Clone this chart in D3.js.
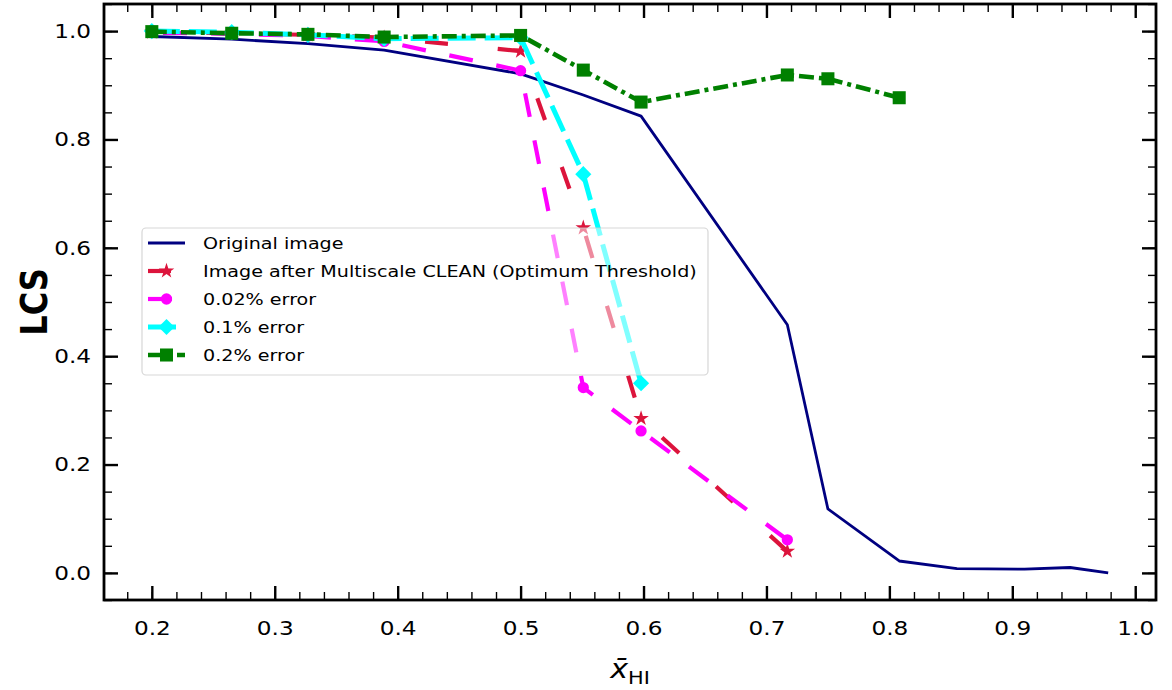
<!DOCTYPE html>
<html>
<head>
<meta charset="utf-8">
<script src="https://cdn.jsdelivr.net/npm/d3@7/dist/d3.min.js"></script>
<style>
  html, body { margin: 0; padding: 0; background: #ffffff; }
  svg { display: block; font-family: "DejaVu Sans", sans-serif; }
</style>
</head>
<body>
<svg id="chart" width="1172" height="690"></svg>
<script>
// Mean neutral fraction sampled along the reionization history
const xHI = [0.2, 0.265, 0.327, 0.389, 0.5, 0.551, 0.598, 0.717, 0.75, 0.808, 0.855, 0.91, 0.947, 0.978];

// LCS for each image type (one value per xHI, series stop where data stop)
const lcsOriginal = [0.990, 0.985, 0.977, 0.965, 0.921, 0.882, 0.843, 0.458, 0.118, 0.022, 0.008, 0.007, 0.010, 0.0];
const lcsClean    = [0.998, 0.996, 0.993, 0.988, 0.963, 0.637, 0.285, 0.040];
const lcsErr002   = [0.997, 0.995, 0.991, 0.981, 0.927, 0.342, 0.262, 0.061];
const lcsErr01    = [1.000, 0.998, 0.993, 0.986, 0.988, 0.736, 0.350];
const lcsErr02    = [0.999, 0.996, 0.994, 0.989, 0.992, 0.928, 0.869, 0.919, 0.912, 0.877];

const seriesNames = [
  "Original image",
  "Image after Multiscale CLEAN (Optimum Threshold)",
  "0.02% error",
  "0.1% error",
  "0.2% error"
];

const xTicks = [0.2, 0.3, 0.4, 0.5, 0.6, 0.7, 0.8, 0.9, 1.0];
const yTicks = [0.0, 0.2, 0.4, 0.6, 0.8, 1.0];

// ---- layout ----
const svg = d3.select("#chart");
const box = { left: 104, right: 1156, top: 4, bottom: 600 };
const textStretch = 1.16;   // glyphs are drawn slightly wide

// 5% padding around the data range on both axes
const xMin = d3.min(xHI), xMax = d3.max(xHI);
const xPad = (xMax - xMin) * 0.05;
const yPad = (1.0 - 0.0) * 0.05;
const x = d3.scaleLinear().domain([xMin - xPad, xMax + xPad]).range([box.left, box.right]);
const y = d3.scaleLinear().domain([0 - yPad, 1.0 + yPad]).range([box.bottom, box.top]);

// move a text's x/y into a transform so it can be widened in place
function widen(sel) {
  sel.each(function () {
    const t = d3.select(this);
    const tx = +t.attr("x") || 0, ty = +t.attr("y") || 0;
    t.attr("x", 0).attr("y", 0)
     .attr("transform", `translate(${tx},${ty}) scale(${textStretch},1)`);
  });
}

// ---- ticks (inward on all four sides) ----
const xMinor = d3.range(0.16, 1.0101, 0.02).filter(v => v >= x.domain()[0] && v <= x.domain()[1]);
const yMinor = d3.range(-0.05, 1.051, 0.05).map(v => Math.round(v * 100) / 100);

const fmt = d3.format(".1f");
const tickFont = 20;

function styleTicks(g, width) {
  g.select(".domain").remove();
  g.selectAll(".tick line").attr("stroke", "#000").attr("stroke-width", width);
}

// minor ticks
svg.append("g").attr("transform", `translate(0,${box.bottom})`)
  .call(d3.axisBottom(x).tickValues(xMinor).tickSize(-8).tickFormat(""))
  .call(g => styleTicks(g, 1.4));
svg.append("g").attr("transform", `translate(0,${box.top})`)
  .call(d3.axisTop(x).tickValues(xMinor).tickSize(-8).tickFormat(""))
  .call(g => styleTicks(g, 1.4));
svg.append("g").attr("transform", `translate(${box.left},0)`)
  .call(d3.axisLeft(y).tickValues(yMinor).tickSize(-8).tickFormat(""))
  .call(g => styleTicks(g, 1.4));
svg.append("g").attr("transform", `translate(${box.right},0)`)
  .call(d3.axisRight(y).tickValues(yMinor).tickSize(-8).tickFormat(""))
  .call(g => styleTicks(g, 1.4));

// major ticks
const xAxis = svg.append("g").attr("transform", `translate(0,${box.bottom})`)
  .call(d3.axisBottom(x).tickValues(xTicks).tickSize(-14).tickPadding(21).tickFormat(fmt))
  .call(g => styleTicks(g, 2.4));
svg.append("g").attr("transform", `translate(0,${box.top})`)
  .call(d3.axisTop(x).tickValues(xTicks).tickSize(-14).tickFormat(""))
  .call(g => styleTicks(g, 2.4));
const yAxis = svg.append("g").attr("transform", `translate(${box.left},0)`)
  .call(d3.axisLeft(y).tickValues(yTicks).tickSize(-14).tickPadding(13).tickFormat(fmt))
  .call(g => styleTicks(g, 2.4));
svg.append("g").attr("transform", `translate(${box.right},0)`)
  .call(d3.axisRight(y).tickValues(yTicks).tickSize(-14).tickFormat(""))
  .call(g => styleTicks(g, 2.4));

[xAxis, yAxis].forEach(a => a.selectAll(".tick text")
  .attr("fill", "#000")
  .style("font-family", "'DejaVu Sans', sans-serif")
  .style("font-size", tickFont + "px")
  .call(widen));

// ---- series ----
const starSym = d3.symbolStar;
const diamondSym = {
  draw(ctx, size) {
    const r = Math.sqrt(size / 2);
    ctx.moveTo(0, -r); ctx.lineTo(r, 0); ctx.lineTo(0, r); ctx.lineTo(-r, 0); ctx.closePath();
  }
};

// dash phase: `anchor` is the point index where a dash should end `past` px after it
const series = [
  { name: seriesNames[0], values: lcsOriginal, color: "#000080", width: 2.8, dash: null, symbol: null, size: 0 },
  { name: seriesNames[1], values: lcsClean,    color: "#DC143C", width: 4.2, dash: [23, 50], anchor: 4, past: 0, symbol: starSym, size: 75 },
  { name: seriesNames[2], values: lcsErr002,   color: "#FF00FF", width: 4.2, dash: [24, 24], anchor: 5, past: 12, symbol: d3.symbolCircle, size: 100 },
  { name: seriesNames[3], values: lcsErr01,    color: "#00FFFF", width: 5,   dash: [28, 9], symbol: diamondSym, size: 130 },
  { name: seriesNames[4], values: lcsErr02,    color: "#008000", width: 4.6, dash: [15, 5, 4, 5], symbol: d3.symbolSquare, size: 170 }
];

// path length in screen pixels up to point index k
function lengthTo(pts, k) {
  let L = 0;
  for (let i = 1; i <= k; i++) {
    L += Math.hypot(x(pts[i][0]) - x(pts[i - 1][0]), y(pts[i][1]) - y(pts[i - 1][1]));
  }
  return L;
}

const line = d3.line().x(d => x(d[0])).y(d => y(d[1]));
const plot = svg.append("g");

series.forEach(s => {
  const pts = s.values.map((v, i) => [xHI[i], v]);
  let offset = 0;
  if (s.dash && s.anchor !== undefined) {
    const period = d3.sum(s.dash);
    const target = lengthTo(pts, s.anchor) + s.past;
    offset = ((s.dash[0] - target) % period + period) % period;
  }
  plot.append("path")
    .attr("d", line(pts))
    .attr("fill", "none")
    .attr("stroke", s.color)
    .attr("stroke-width", s.width)
    .attr("stroke-linejoin", "round")
    .attr("stroke-dasharray", s.dash ? s.dash.join(",") : null)
    .attr("stroke-dashoffset", offset);
  if (s.symbol) {
    plot.append("g").selectAll("path")
      .data(pts).join("path")
      .attr("transform", d => `translate(${x(d[0])},${y(d[1])})`)
      .attr("d", d3.symbol().type(s.symbol).size(s.size))
      .attr("fill", s.color);
  }
});

// ---- frame ----
svg.append("rect")
  .attr("x", box.left).attr("y", box.top)
  .attr("width", box.right - box.left).attr("height", box.bottom - box.top)
  .attr("fill", "none").attr("stroke", "#000").attr("stroke-width", 2.8);

// ---- axis titles ----
svg.append("text")
  .attr("transform", `translate(47,${(box.top + box.bottom) / 2}) rotate(-90) scale(1,${textStretch})`)
  .attr("text-anchor", "middle")
  .style("font-size", "32px").style("font-weight", "bold")
  .text("LCS");

const xt = svg.append("text")
  .attr("transform", `translate(${(box.left + box.right) / 2},678) scale(${textStretch},1)`)
  .attr("text-anchor", "middle")
  .style("font-size", "26px");
xt.append("tspan").style("font-style", "italic").text("x\u0304");
xt.append("tspan").attr("dy", 6).style("font-size", "18px").text("HI");

// ---- legend ----
const lg = svg.append("g");
lg.append("rect")
  .attr("x", 142).attr("y", 228).attr("width", 566).attr("height", 147)
  .attr("rx", 4).attr("ry", 4)
  .attr("fill", "#ffffff").attr("fill-opacity", 0.5)
  .attr("stroke", "#cccccc").attr("stroke-opacity", 0.8).attr("stroke-width", 1.2);

series.forEach((s, i) => {
  const cy = 243 + i * 28;
  const row = lg.append("g").attr("transform", `translate(0,${cy})`);
  row.append("line")
    .attr("x1", 148).attr("x2", 185).attr("y1", 0).attr("y2", 0)
    .attr("stroke", s.color).attr("stroke-width", s.width)
    .attr("stroke-dasharray", s.dash ? s.dash.join(",") : null);
  if (s.symbol) {
    row.append("path")
      .attr("transform", "translate(166.5,0)")
      .attr("d", d3.symbol().type(s.symbol).size(s.size))
      .attr("fill", s.color);
  }
  row.append("text")
    .attr("x", 203).attr("y", 0).attr("dy", "0.36em")
    .style("font-size", "16.5px")
    .text(s.name)
    .call(widen);
});
</script>
</body>
</html>
